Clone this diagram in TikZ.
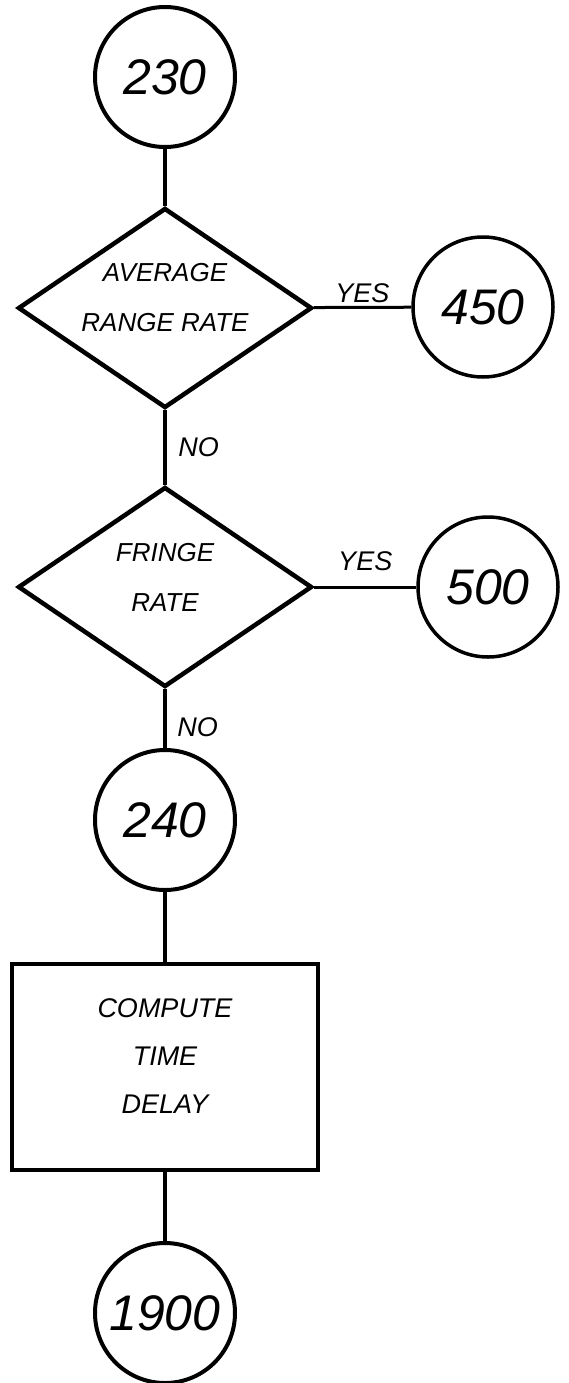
\documentclass[tikz,border=0pt]{standalone}
\usepackage{fontspec}
\setmainfont{Liberation Sans}
\usetikzlibrary{shapes.geometric}
\begin{document}
\begin{tikzpicture}[
  x=1pt, y=-1pt,
  conn/.style={draw, circle, line width=4pt, minimum size=140pt, inner sep=0pt, font=\fontsize{50}{50}\selectfont\itshape},
  decision/.style={draw, diamond, line width=4.5pt, minimum width=294pt, minimum height=200pt, inner sep=0pt},
  dtext/.style={align=center, yshift=10pt, font=\fontsize{26}{50}\selectfont\itshape},
  proc/.style={draw, rectangle, line width=4.5pt, minimum width=306pt, minimum height=206pt, text depth=22pt, align=center, font=\fontsize{27}{48}\selectfont\itshape},
  link/.style={line width=4pt},
  answer/.style={font=\fontsize{27}{27}\selectfont\itshape}
]
\useasboundingbox (0,0) rectangle (568,1383);
\node[conn] (c230) at (165,77) {230};
\node[decision, label={[dtext]center:AVERAGE\\RANGE RATE}] (avg) at (165,308) {};
\node[conn, line width=3.5pt] (c450) at (483,307) {450};
\node[decision, label={[dtext]center:FRINGE\\RATE}] (fringe) at (165,587) {};
\node[conn, line width=3.5pt] (c500) at (488,587) {500};
\node[conn] (c240) at (165,820) {240};
\node[proc] (delay) at (165,1067) {COMPUTE\\TIME\\DELAY};
\node[conn] (c1900) at (165,1313) {1900};
\draw[link] (c230) -- (avg);
\draw[link, line width=3pt] (avg) -- node[answer, above] {YES} (c450);
\draw[link] (avg) -- node[answer, right=8pt] {NO} (fringe);
\draw[link, line width=3pt] (fringe) -- node[answer, above=11pt] {YES} (c500);
\draw[link] (fringe) -- node[answer, right=7pt, pos=0.65] {NO} (c240);
\draw[link] (c240) -- (delay);
\draw[link] (delay) -- (c1900);
\end{tikzpicture}
\end{document}
